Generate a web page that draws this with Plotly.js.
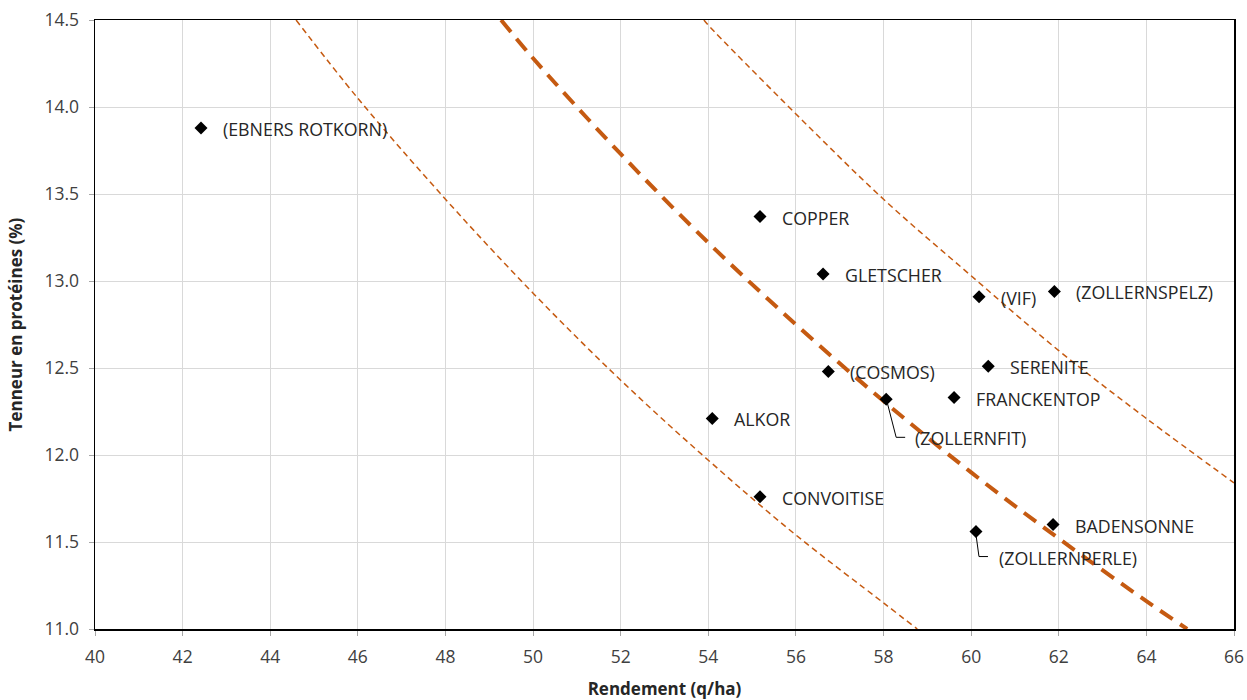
<!DOCTYPE html>
<html><head><meta charset="utf-8">
<script src="https://cdn.plot.ly/plotly-3.0.1.min.js"></script>
<style>html,body{margin:0;padding:0;background:#fff}#chart{width:1247px;height:700px}</style>
</head><body><div id="chart"></div>
<script>
// Varieties
const varieties = ["(EBNERS ROTKORN)","COPPER","GLETSCHER","(VIF)","(ZOLLERNSPELZ)","SERENITE","(COSMOS)","FRANCKENTOP","(ZOLLERNFIT)","ALKOR","CONVOITISE","BADENSONNE","(ZOLLERNPERLE)"];
const yieldQha = [42.42,55.18,56.62,60.18,61.9,60.39,56.74,59.61,58.06,54.09,55.18,61.87,60.11];
const protein = [13.88,13.37,13.04,12.91,12.94,12.51,12.48,12.33,12.32,12.21,11.76,11.60,11.56];

// Reference curves
const midX = [49.27,50,52,54,56,58,60,62,64,64.93];
const midY = [14.5,14.28,13.73,13.22,12.75,12.31,11.90,11.52,11.16,11.0];
const lowX = [44.59,46,48,50,52,54,56,58,58.77];
const lowY = [14.5,14.05,13.47,12.93,12.43,11.97,11.54,11.15,11.0];
const highX = [53.9,54,56,58,60,62,64,66];
const highY = [14.5,14.47,13.96,13.47,13.03,12.60,12.21,11.84];

const xTicks = [40,42,44,46,48,50,52,54,56,58,60,62,64,66];
const yTicks = [11.0,11.5,12.0,12.5,13.0,13.5,14.0,14.5];

const lineColor = "#C55A11";
const font = "Open Sans, Liberation Sans, sans-serif";

const traces = [
  {x: lowX, y: lowY, mode: "lines", line: {color: lineColor, width: 1.5, dash: "6px,4px", shape: "spline"}, hoverinfo: "skip"},
  {x: highX, y: highY, mode: "lines", line: {color: lineColor, width: 1.5, dash: "6px,4px", shape: "spline"}, hoverinfo: "skip"},
  {x: midX, y: midY, mode: "lines", line: {color: lineColor, width: 4, dash: "15px,9px", shape: "spline"}, hoverinfo: "skip"},
  {x: yieldQha, y: protein, mode: "markers", marker: {symbol: "diamond", size: 10, color: "#000"}, text: varieties}
];

// label offsets in pixels (dx right, dy down)
const offsets = {
  "(ZOLLERNFIT)": [27, 39],
  "(ZOLLERNPERLE)": [21, 26]
};
const annotations = varieties.map((v, i) => {
  const o = offsets[v] || [20, 1];
  return {x: yieldQha[i], y: protein[i], text: v, showarrow: true, arrowcolor: "rgba(0,0,0,0)",
    ax: o[0], ay: o[1], xanchor: "left", yanchor: "middle",
    font: {family: font, size: 17.8, color: "#262626"}};
});

const shapes = [
  {type: "path", xref: "x", yref: "y", xsizemode: "pixel", ysizemode: "pixel",
   xanchor: yieldQha[8], yanchor: protein[8], path: "M 1,-3 L 10,-38 L 19,-38",
   line: {color: "#000", width: 1}},
  {type: "path", xref: "x", yref: "y", xsizemode: "pixel", ysizemode: "pixel",
   xanchor: yieldQha[12], yanchor: protein[12], path: "M 0,-3 L 3,-25 L 12,-25",
   line: {color: "#000", width: 1}}
];

const layout = {
  width: 1247, height: 700,
  margin: {l: 95, r: 13, t: 20, b: 71},
  paper_bgcolor: "#fff", plot_bgcolor: "#fff",
  showlegend: false,
  font: {family: font, color: "#404040"},
  xaxis: {range: [40, 66], tickvals: xTicks, ticktext: xTicks.map(String),
    showgrid: true, gridcolor: "#d9d9d9", gridwidth: 1, zeroline: false,
    showline: true, linecolor: "#000", linewidth: 1.5, mirror: true,
    ticks: "outside", ticklen: 5, tickcolor: "#a6a6a6", ticklabelstandoff: 6,
    tickfont: {family: font, size: 17.5, color: "#404040"},
    title: {text: "Rendement (q/ha)", font: {family: font, size: 17, color: "#262626", weight: "bold"}, standoff: 18}},
  yaxis: {range: [11.0, 14.5], tickvals: yTicks, ticktext: yTicks.map(v => v.toFixed(1)),
    showgrid: true, gridcolor: "#d9d9d9", gridwidth: 1, zeroline: false,
    showline: true, linecolor: "#000", linewidth: 1.5, mirror: true,
    ticks: "outside", ticklen: 5, tickcolor: "#a6a6a6", ticklabelstandoff: 6,
    tickfont: {family: font, size: 17.5, color: "#404040"},
    title: {text: "Tenneur en protéines (%)", font: {family: font, size: 17, color: "#262626", weight: "bold"}, standoff: 17}},
  annotations: annotations,
  shapes: shapes
};

Plotly.newPlot("chart", traces, layout, {displayModeBar: false, staticPlot: true});
</script></body></html>
